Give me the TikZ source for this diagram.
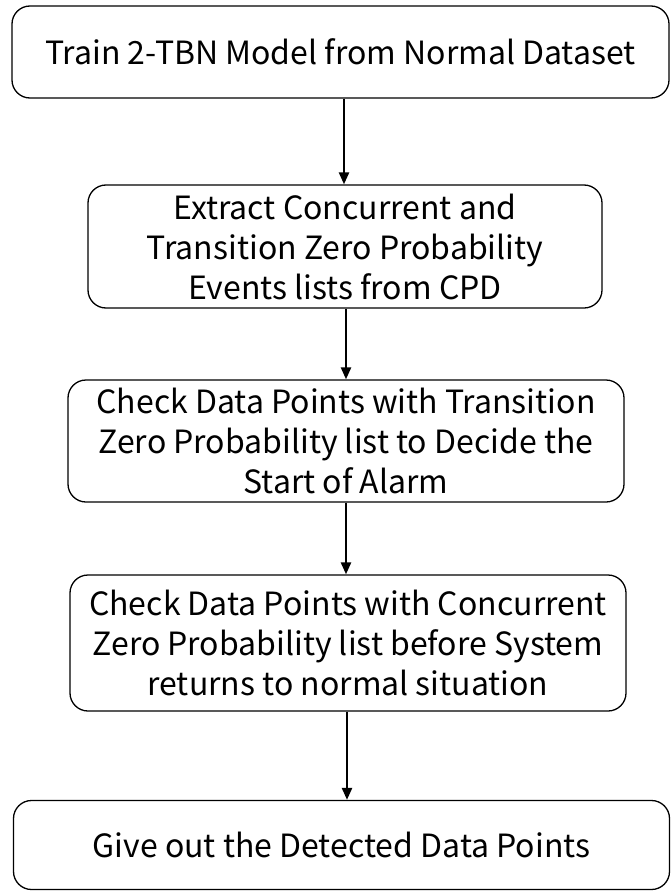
\documentclass[tikz,border=0pt]{standalone}
\usepackage{fontspec}
\setmainfont{Noto Sans CJK SC}
\usetikzlibrary{arrows.meta}

\tikzset{
  stepbox/.style={draw, line width=1.3pt, rounded corners=18pt, align=center,
    inner sep=0pt, font=\fontsize{32}{40}\selectfont},
  flow/.style={line width=2.4pt, -{Triangle[length=12pt,width=10pt]}}
}

\begin{document}
\begin{tikzpicture}[x=1pt, y=-1pt]
    \useasboundingbox (0,0) rectangle (670,891);
    \node[stepbox, minimum width=657pt, minimum height=92pt] (train) at (340.5,52)
        {Train 2-TBN Model from Normal Dataset};
    \node[stepbox, minimum width=514pt, minimum height=123pt] (extract) at (345,246.5)
        {Extract Concurrent and\\Transition Zero Probability\\Events lists from CPD};
    \node[stepbox, minimum width=556pt, minimum height=122pt] (checktrans) at (346,441)
        {Check Data Points with Transition\\Zero Probability list to Decide the\\Start of Alarm};
    \node[stepbox, minimum width=556pt, minimum height=136pt] (checkconc) at (348,643)
        {Check Data Points with Concurrent\\Zero Probability list before System\\returns to normal situation};
    \node[stepbox, minimum width=656pt, minimum height=89pt] (giveout) at (341.5,845)
        {Give out the Detected Data Points};
    % arrows between the steps
    \draw[flow] (train.south -| 344,0) -- (extract.north -| 344,0);
    \draw[flow] (extract.south -| 346,0) -- (checktrans.north -| 346,0);
    \draw[flow] (checktrans.south -| 346,0) -- (checkconc.north -| 346,0);
    \draw[flow] (checkconc.south -| 347,0) -- (giveout.north -| 347,0);
\end{tikzpicture}
\end{document}
